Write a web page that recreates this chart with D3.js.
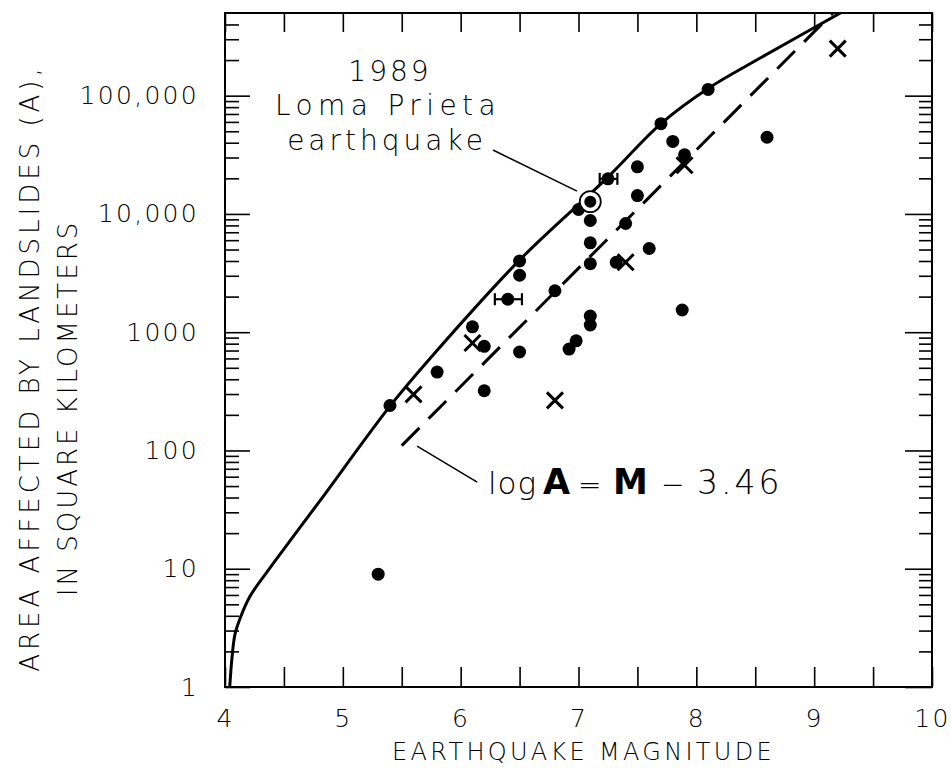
<!DOCTYPE html>
<html><head><meta charset="utf-8">
<script src="https://cdn.jsdelivr.net/npm/d3@7"></script>
<style>
html,body{margin:0;padding:0;background:#fff;}
svg{display:block;}
text{font-family:"DejaVu Sans",sans-serif;font-weight:200;fill:#000;}
text.bold{font-weight:700;}
</style></head><body>
<svg id="chart" width="951" height="777"></svg>
<script>
// ---- tick values / labels
const magTicks = [4,4.5,5,5.5,6,6.5,7,7.5,8,8.5,9,9.5,10];
const magLabels = ["4","","5","","6","","7","","8","","9","","10"];
const areaMajor = [1,10,100,1000,10000,100000];
const areaLabels = ["1","10","100","1000","10,000","100,000"];
const areaMinor = [2,3,4,5,6,7,8,9,20,30,40,50,60,70,80,90,200,300,400,500,600,700,800,900,
  2000,3000,4000,5000,6000,7000,8000,9000,20000,30000,40000,50000,60000,70000,80000,90000,
  200000,300000,400000];

// ---- earthquakes (filled dots)
const dotM = [5.3,5.4,5.8,6.1,6.2,6.2,6.5,6.5,6.5,6.8,6.92,6.98,7.0,7.1,7.1,7.1,7.1,7.1,7.32,7.4,7.5,7.5,7.6,7.7,7.8,7.9,7.88,8.1,8.6];
const dotA = [9,240,460,1110,760,320,4000,3030,680,2240,720,845,10900,8800,5700,3800,1370,1150,3900,8300,25000,14300,5100,58000,41000,31600,1540,113000,44500];

// ---- earthquakes with magnitude ranges (dot + horizontal bar)
const errM = [6.4,7.25];
const errA = [1900,19800];
const errLo = [6.29,7.18];
const errHi = [6.52,7.33];

// ---- earthquakes marked with X
const crossM = [5.6,6.1,6.8,7.4,7.9,9.2];
const crossA = [298,810,265,3900,25800,250000];

// ---- 1989 Loma Prieta
const lomaM = [7.1];
const lomaA = [12700];

// ---- upper bound curve
const boundM = [4.04,4.06,4.085,4.13,4.21,4.36,4.58,4.81,5.40,5.74,6.51,7.25,7.70,8.10,8.55,9.26];
const boundA = [1,1.8,2.8,3.85,5.8,9.5,18.8,38,237,600,4170,20500,58000,115000,210000,525000];

// ---- log A = M - 3.46 (dashed)
const fitM = [5.5,9.2];
const fitA = [110,550000];

const svg = d3.select("#chart");
const L=225,R=932,T=13,B=687;
const x = d3.scaleLinear().domain([4,10]).range([L,R]);
const y = d3.scaleLog().domain([1,5e5]).range([B,T]);

svg.append("defs").append("clipPath").attr("id","clip")
  .append("rect").attr("x",L).attr("y",T).attr("width",R-L).attr("height",B-T);

function styleAxis(g){
  g.select(".domain").remove();
  g.selectAll(".tick line").attr("stroke","#000").attr("stroke-width",1.6);
  g.selectAll("text").attr("font-size",25).attr("letter-spacing","2.3px").attr("fill","#000")
   .attr("font-family",null);
}
// bottom
svg.append("g").attr("transform",`translate(0,${B})`)
  .call(d3.axisBottom(x).tickValues(magTicks).tickSize(-20).tickPadding(22)
    .tickFormat((d,i)=>magLabels[i])).call(styleAxis);
// top
svg.append("g").attr("transform",`translate(0,${T})`)
  .call(d3.axisTop(x).tickValues(magTicks).tickSize(-19).tickFormat("")).call(styleAxis);
// left
svg.append("g").attr("transform",`translate(${L},0)`)
  .call(d3.axisLeft(y).tickValues(areaMajor).tickSize(-25).tickPadding(26)
    .tickFormat((d,i)=>areaLabels[i])).call(styleAxis);
svg.append("g").attr("transform",`translate(${L},0)`)
  .call(d3.axisLeft(y).tickValues(areaMinor).tickSize(-14).tickFormat("")).call(styleAxis);
// right
svg.append("g").attr("transform",`translate(${R},0)`)
  .call(d3.axisRight(y).tickValues(areaMajor).tickSize(-27).tickFormat("")).call(styleAxis);
svg.append("g").attr("transform",`translate(${R},0)`)
  .call(d3.axisRight(y).tickValues(areaMinor).tickSize(-13).tickFormat("")).call(styleAxis);

// frame
svg.append("rect").attr("x",L).attr("y",T).attr("width",R-L).attr("height",B-T)
  .attr("fill","none").attr("stroke","#000").attr("stroke-width",2);

// axis titles
svg.append("text").attr("x",(L+R)/2+5).attr("y",760).attr("text-anchor","middle")
  .attr("font-size",24).attr("letter-spacing","3.3px").text("EARTHQUAKE MAGNITUDE");
svg.append("text").attr("transform","translate(39,368) rotate(-90)").attr("text-anchor","middle")
  .attr("font-size",26).attr("letter-spacing","4px").text("AREA AFFECTED BY LANDSLIDES (A),");
svg.append("text").attr("transform","translate(77,408) rotate(-90)").attr("text-anchor","middle")
  .attr("font-size",26).attr("letter-spacing","3px").text("IN SQUARE KILOMETERS");

const plot = svg.append("g").attr("clip-path","url(#clip)");

// curve
const boundData = boundM.map((m,i)=>[m,boundA[i]]);
plot.append("path").datum(boundData)
  .attr("d",d3.line().x(d=>x(d[0])).y(d=>y(d[1])).curve(d3.curveCatmullRom.alpha(0.5)))
  .attr("fill","none").attr("stroke","#000").attr("stroke-width",3);

const fitData = fitM.map((m,i)=>[m,fitA[i]]);
plot.append("path").datum(fitData)
  .attr("d",d3.line().x(d=>x(d[0])).y(d=>y(d[1])))
  .attr("fill","none").attr("stroke","#000").attr("stroke-width",3)
  .attr("stroke-dasharray","25,13");

// dots
plot.selectAll("circle.dot").data(dotM.map((m,i)=>[m,dotA[i]])).join("circle")
  .attr("class","dot").attr("cx",d=>x(d[0])).attr("cy",d=>y(d[1])).attr("r",6.5).attr("fill","#000");

// error-bar quakes
const errData = errM.map((m,i)=>({m,a:errA[i],lo:errLo[i],hi:errHi[i]}));
const eg = plot.selectAll("g.err").data(errData).join("g").attr("class","err");
eg.append("line").attr("x1",d=>x(d.lo)).attr("x2",d=>x(d.hi)).attr("y1",d=>y(d.a)).attr("y2",d=>y(d.a))
  .attr("stroke","#000").attr("stroke-width",2.2);
eg.append("line").attr("x1",d=>x(d.lo)).attr("x2",d=>x(d.lo)).attr("y1",d=>y(d.a)-6).attr("y2",d=>y(d.a)+6)
  .attr("stroke","#000").attr("stroke-width",2.2);
eg.append("line").attr("x1",d=>x(d.hi)).attr("x2",d=>x(d.hi)).attr("y1",d=>y(d.a)-6).attr("y2",d=>y(d.a)+6)
  .attr("stroke","#000").attr("stroke-width",2.2);
eg.append("circle").attr("cx",d=>x(d.m)).attr("cy",d=>y(d.a)).attr("r",6.5).attr("fill","#000");

// crosses
const cs = 8;
const cg = plot.selectAll("g.cross").data(crossM.map((m,i)=>[m,crossA[i]])).join("g")
  .attr("class","cross").attr("transform",d=>`translate(${x(d[0])},${y(d[1])})`);
cg.append("path").attr("d",`M${-cs},${-cs}L${cs},${cs}M${-cs},${cs}L${cs},${-cs}`)
  .attr("stroke","#000").attr("stroke-width",3).attr("fill","none");

// Loma Prieta
const lg = plot.selectAll("g.loma").data(lomaM.map((m,i)=>[m,lomaA[i]])).join("g")
  .attr("class","loma").attr("transform",d=>`translate(${x(d[0])},${y(d[1])})`);
lg.append("circle").attr("r",10.5).attr("fill","#fff").attr("stroke","#000").attr("stroke-width",1.8);
lg.append("circle").attr("r",6).attr("fill","#000");

// annotations
const ann = svg.append("g");
ann.append("line").attr("x1",x(6.274)).attr("y1",y(34700)).attr("x2",x(6.987)).attr("y2",y(15600))
  .attr("stroke","#000").attr("stroke-width",1.5);
ann.append("text").attr("x",390).attr("y",81).attr("text-anchor","middle").attr("font-size",28)
  .attr("letter-spacing","3px").text("1989");
ann.append("text").attr("x",388).attr("y",115).attr("text-anchor","middle").attr("font-size",28)
  .attr("letter-spacing","5.4px").text("Loma Prieta");
ann.append("text").attr("x",387).attr("y",150).attr("text-anchor","middle").attr("font-size",28)
  .attr("letter-spacing","4px").text("earthquake");

ann.append("line").attr("x1",x(5.63)).attr("y1",y(109)).attr("x2",x(6.14)).attr("y2",y(54))
  .attr("stroke","#000").attr("stroke-width",1.5);
const eqY = 494;
ann.append("text").attr("x",488).attr("y",eqY).attr("font-size",31).attr("letter-spacing","1px").text("log");
ann.append("text").attr("class","bold").attr("x",543).attr("y",eqY).attr("font-size",35).text("A");
ann.append("text").attr("x",578).attr("y",eqY).attr("font-size",28).text("=");
ann.append("text").attr("class","bold").attr("x",613).attr("y",eqY).attr("font-size",35).text("M");
ann.append("text").attr("x",661).attr("y",eqY).attr("font-size",28).text("\u2212");
ann.append("text").attr("x",697).attr("y",eqY).attr("font-size",33).attr("letter-spacing","3px").text("3.46");
</script>
</body></html>
